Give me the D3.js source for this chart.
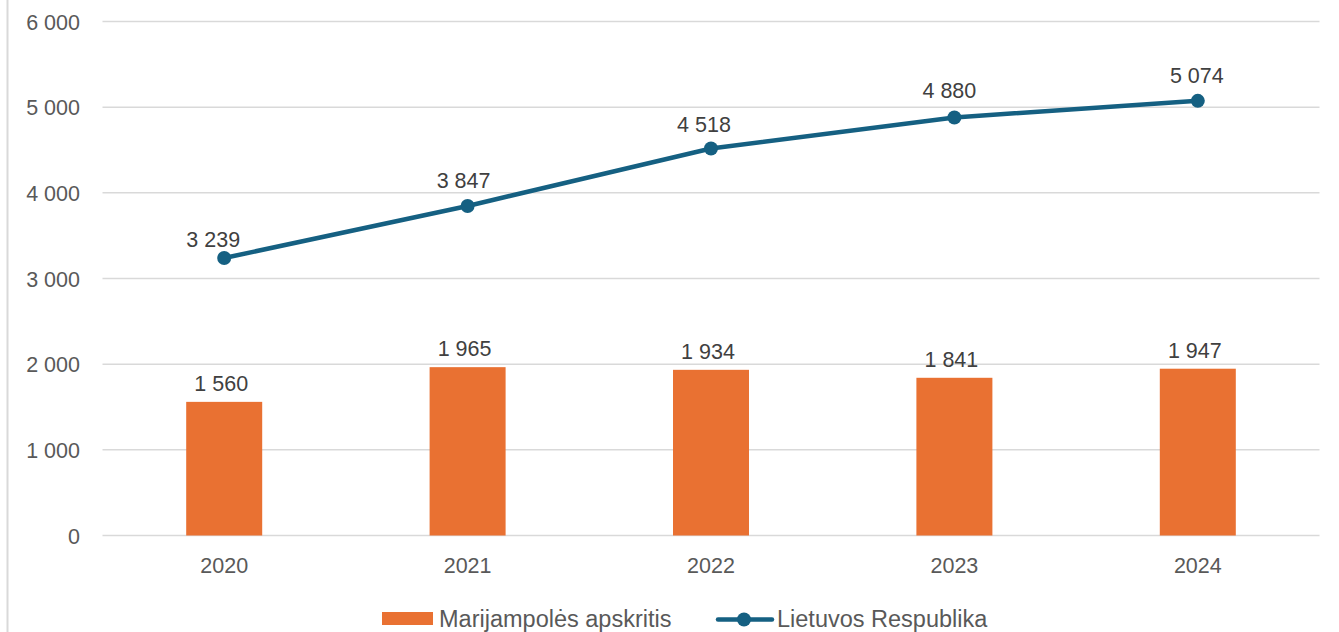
<!DOCTYPE html>
<html><head><meta charset="utf-8">
<script src="https://cdn.jsdelivr.net/npm/d3@7"></script>
<style>body{margin:0;background:#fff}svg{display:block}</style>
</head><body>
<svg id="c" width="1339" height="632"></svg>
<script>
const categories = ["2020","2021","2022","2023","2024"];
const barValues = [1560,1965,1934,1841,1947];
const lineValues = [3239,3847,4518,4880,5074];
const yTicks = [0,1000,2000,3000,4000,5000,6000];
const seriesNames = ["Marijampolės apskritis","Lietuvos Respublika"];

// label placement offsets (pixels), as in the source chart
const lineLabelDx = [-11,-4,-7,-5,-1];
const lineLabelDy = [-11,-18,-16,-19,-18];

const fmt = v => d3.format(",")(v).replace(/,/g," ");
const svg = d3.select("#c");
const FONT = "'Liberation Sans', Arial, sans-serif";
const orange = "#E97132", blue = "#156082";
const NUM = 21.5;

svg.append("line").attr("x1",7.5).attr("x2",7.5).attr("y1",0).attr("y2",632)
  .attr("stroke","#d9d9d9").attr("stroke-width",2);

const x = d3.scaleBand().domain(categories).range([102.5,1319.5]).padding(0);
const y = d3.scaleLinear().domain([0,6000]).range([535.5,21.5]);

const grid = svg.append("g");
grid.selectAll("line").data(yTicks).join("line")
  .attr("x1",102.5).attr("x2",1319.5)
  .attr("y1",d=>y(d)).attr("y2",d=>y(d))
  .attr("stroke","#d9d9d9").attr("stroke-width",1.5);

const yAxis = svg.append("g").attr("transform","translate(80,0)")
  .call(d3.axisLeft(y).tickValues(yTicks).tickFormat(fmt).tickSize(0).tickPadding(0));
yAxis.select(".domain").remove();
yAxis.selectAll("text").attr("font-family",FONT).attr("font-size",NUM).attr("fill","#595959").attr("dy","0.35em");

const xAxis = svg.append("g").attr("transform","translate(0,535.5)")
  .call(d3.axisBottom(x).tickSize(0).tickPadding(0));
xAxis.select(".domain").remove();
xAxis.selectAll("text").attr("font-family",FONT).attr("font-size",NUM).attr("fill","#595959").attr("dy",null).attr("y",37.5);

const bw = 76;
svg.append("g").selectAll("rect").data(barValues).join("rect")
  .attr("x",(d,i)=>x(categories[i])+x.bandwidth()/2-bw/2)
  .attr("width",bw)
  .attr("y",d=>y(d)).attr("height",d=>y(0)-y(d))
  .attr("fill",orange);

svg.append("g").selectAll("text").data(barValues).join("text")
  .attr("x",(d,i)=>x(categories[i])+x.bandwidth()/2-3)
  .attr("y",d=>y(d)-11)
  .attr("text-anchor","middle").attr("font-family",FONT).attr("font-size",NUM).attr("fill","#404040")
  .text(fmt);

const cx = (d,i)=>x(categories[i])+x.bandwidth()/2;
svg.append("path").datum(lineValues)
  .attr("d",d3.line().x(cx).y(d=>y(d)))
  .attr("fill","none").attr("stroke",blue).attr("stroke-width",4.5).attr("stroke-linejoin","round");
svg.append("g").selectAll("circle").data(lineValues).join("circle")
  .attr("cx",cx).attr("cy",d=>y(d)).attr("r",7).attr("fill",blue);
svg.append("g").selectAll("text").data(lineValues).join("text")
  .attr("x",(d,i)=>cx(d,i)+lineLabelDx[i]).attr("y",(d,i)=>y(d)+lineLabelDy[i])
  .attr("text-anchor","middle").attr("font-family",FONT).attr("font-size",NUM).attr("fill","#404040")
  .text(fmt);

const LF = 23.5;
const lg = svg.append("g");
lg.append("rect").attr("x",382).attr("y",612).attr("width",51).attr("height",13).attr("fill",orange);
lg.append("text").attr("x",439).attr("y",627).attr("font-family",FONT).attr("font-size",LF).attr("fill","#595959").text(seriesNames[0]);
lg.append("line").attr("x1",718).attr("x2",772).attr("y1",619.5).attr("y2",619.5).attr("stroke",blue).attr("stroke-width",4.5).attr("stroke-linecap","round");
lg.append("circle").attr("cx",744).attr("cy",619.5).attr("r",7).attr("fill",blue);
lg.append("text").attr("x",777).attr("y",627).attr("font-family",FONT).attr("font-size",LF).attr("fill","#595959").text(seriesNames[1]);
</script>
</body></html>
